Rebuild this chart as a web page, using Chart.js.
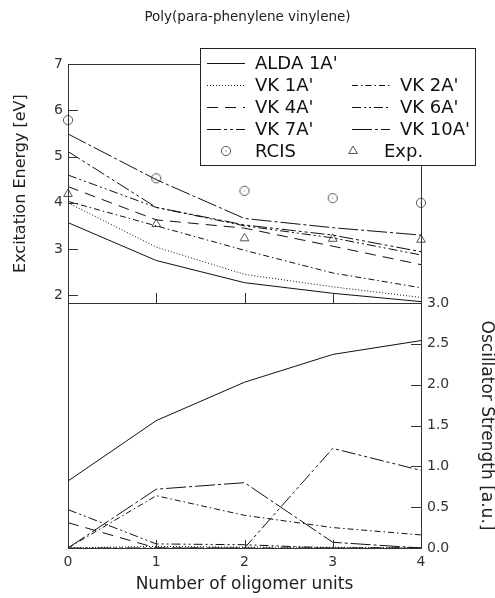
<!DOCTYPE html>
<html>
<head>
<meta charset="utf-8">
<script src="https://cdn.jsdelivr.net/npm/chart.js@4.4.1/dist/chart.umd.min.js"></script>
<style>
  body { margin: 0; background: #fff; }
  #wrap { position: relative; width: 495px; height: 598px; }
  #wrap canvas { position: absolute; left: 0; top: 0; }
</style>
</head>
<body>
<div id="wrap">
  <canvas id="strength" width="495" height="598"></canvas>
  <canvas id="energy" width="495" height="598"></canvas>
</div>
<script>
const oligomers = [0, 1, 2, 3, 4];
const energyTicks = [2, 3, 4, 5, 6, 7];
const strengthTicks = [0, 0.5, 1, 1.5, 2, 2.5, 3];

// excitation energies [eV]
const aldaE = [3.57, 2.75, 2.27, 2.04, 1.86];
const vk1E  = [4.00, 3.04, 2.45, 2.18, 1.95];
const vk2E  = [4.03, 3.50, 2.97, 2.48, 2.16];
const vk4E  = [4.35, 3.63, 3.45, 3.06, 2.66];
const vk6E  = [4.60, 3.90, 3.50, 3.24, 2.87];
const vk7E  = [5.11, 3.90, 3.52, 3.30, 2.94];
const vk10E = [5.49, 4.50, 3.66, 3.46, 3.30];
const rcisE = [5.79, 4.53, 4.26, 4.10, 4.00];
const expE  = [4.19, 3.54, 3.23, 3.22, 3.20];

// oscillator strengths [a.u.]
const aldaF = [0.82, 1.56, 2.03, 2.37, 2.54];
const vk1F  = [0.00, 0.02, 0.01, 0.01, 0.00];
const vk2F  = [0.00, 0.64, 0.40, 0.25, 0.16];
const vk4F  = [0.31, 0.00, 0.00, 0.00, 0.00];
const vk6F  = [0.47, 0.05, 0.04, 0.00, 0.00];
const vk7F  = [0.00, 0.00, 0.00, 1.22, 0.95];
const vk10F = [0.00, 0.72, 0.80, 0.07, 0.00];

const INK = '#111';
const FRAME = '#333';
Chart.defaults.font.family = "'DejaVu Sans', sans-serif";
Chart.defaults.color = '#222';

// open circle with a centre dot, used for RCIS
function circleDot() {
  const c = document.createElement('canvas');
  c.width = 12; c.height = 12;
  const g = c.getContext('2d');
  g.strokeStyle = '#555';
  g.lineWidth = 1;
  g.beginPath(); g.arc(6, 6, 4.6, 0, Math.PI * 2); g.stroke();
  g.fillStyle = '#555';
  g.fillRect(5.5, 5.5, 1, 1);
  return c;
}
const circleImg = circleDot();

function pts(values) {
  return values.map((v, i) => ({ x: oligomers[i], y: v }));
}

function lineSet(label, values, dash) {
  return {
    label, data: pts(values),
    borderColor: INK, borderWidth: 1, borderDash: dash,
    pointRadius: 0, fill: false, tension: 0
  };
}

function pointSet(label, values, style, radius) {
  return {
    label, data: pts(values), showLine: false,
    pointStyle: style, pointRadius: radius, pointBorderWidth: 1,
    pointBorderColor: '#555', pointBackgroundColor: 'rgba(0,0,0,0)',
    clip: false
  };
}

const DASH = {
  alda: [],
  vk1: [1, 2],
  vk2: [6, 3, 1.5, 3],
  vk4: [11, 7],
  vk6: [9, 3, 2, 3, 2, 3],
  vk7: [14, 3, 3, 3, 3, 3],
  vk10: [20, 3, 3, 3]
};

// inward tick marks and the panel frame
const panelFrame = {
  id: 'panelFrame',
  afterDatasetsDraw(chart, args, opts) {
    const { ctx, chartArea: a } = chart;
    ctx.save();
    ctx.strokeStyle = FRAME;
    ctx.lineWidth = 1;
    ctx.setLineDash([]);
    ctx.strokeRect(Math.round(a.left) + 0.5, Math.round(a.top) + 0.5,
      Math.round(a.right - a.left), Math.round(a.bottom - a.top));
    (opts.marks || []).forEach(m => {
      const s = chart.scales[m.axis];
      s.ticks.forEach(t => {
        const p = Math.round(s.getPixelForValue(t.value)) + 0.5;
        ctx.beginPath();
        if (m.edge === 'left') { ctx.moveTo(a.left, p); ctx.lineTo(a.left + m.len, p); }
        if (m.edge === 'right') { ctx.moveTo(a.right, p); ctx.lineTo(a.right - m.len, p); }
        if (m.edge === 'bottom') { ctx.moveTo(p, a.bottom); ctx.lineTo(p, a.bottom - m.len); }
        ctx.stroke();
      });
    });
    ctx.restore();
  }
};

// boxed two-column legend
const legendSlots = [[0, 0], [0, 1], [1, 1], [0, 2], [1, 2], [0, 3], [1, 3], [0, 4], [1, 4]];
const boxLegend = {
  id: 'boxLegend',
  afterDraw(chart) {
    const { ctx } = chart;
    ctx.save();
    ctx.fillStyle = '#fff';
    ctx.fillRect(200, 48, 275, 117);
    ctx.strokeStyle = '#222';
    ctx.lineWidth = 1;
    ctx.strokeRect(200.5, 48.5, 275, 117);
    ctx.font = "18px 'DejaVu Sans'";
    ctx.textBaseline = 'middle';
    ctx.fillStyle = '#111';
    chart.data.datasets.forEach((ds, i) => {
      const [col, row] = legendSlots[i];
      const y = 63 + row * 22;
      if (ds.showLine === false) {
        const mx = col === 0 ? 226 : 353;
        if (ds.pointStyle === 'triangle') {
          const r = ds.pointRadius;
          ctx.strokeStyle = '#555';
          ctx.setLineDash([]);
          ctx.beginPath();
          ctx.moveTo(mx, y - r);
          ctx.lineTo(mx + r * 0.866, y + r * 0.5);
          ctx.lineTo(mx - r * 0.866, y + r * 0.5);
          ctx.closePath();
          ctx.stroke();
        } else {
          ctx.drawImage(ds.pointStyle, mx - 6, y - 6);
        }
        ctx.fillText(ds.label, col === 0 ? 255 : 384, y + 1);
      } else {
        const sx = col === 0 ? 207 : 352;
        ctx.strokeStyle = INK;
        ctx.setLineDash(ds.borderDash);
        ctx.beginPath();
        ctx.moveTo(sx, y + 0.5);
        ctx.lineTo(sx + 38, y + 0.5);
        ctx.stroke();
        ctx.fillText(ds.label, col === 0 ? 255 : 400, y + 1);
      }
    });
    ctx.restore();
  }
};

new Chart(document.getElementById('energy'), {
  type: 'line',
  data: {
    datasets: [
      lineSet("ALDA 1A'", aldaE, DASH.alda),
      lineSet("VK 1A'", vk1E, DASH.vk1),
      lineSet("VK 2A'", vk2E, DASH.vk2),
      lineSet("VK 4A'", vk4E, DASH.vk4),
      lineSet("VK 6A'", vk6E, DASH.vk6),
      lineSet("VK 7A'", vk7E, DASH.vk7),
      lineSet("VK 10A'", vk10E, DASH.vk10),
      pointSet('RCIS', rcisE, circleImg, 5),
      pointSet('Exp.', expE, 'triangle', 5)
    ]
  },
  options: {
    responsive: false,
    animation: false,
    layout: { padding: { left: 0, right: 0, top: 0, bottom: 295 } },
    plugins: {
      legend: { display: false },
      tooltip: { enabled: false },
      title: {
        display: true,
        text: 'Poly(para-phenylene vinylene)',
        font: { size: 13.5, weight: 'normal' },
        color: '#222',
        padding: { top: 9, bottom: 39 }
      },
      panelFrame: { marks: [{ axis: 'y', edge: 'left', len: 10 }, { axis: 'x', edge: 'bottom', len: 10 }] }
    },
    scales: {
      x: {
        type: 'linear', min: 0, max: 4,
        afterBuildTicks: s => { s.ticks = oligomers.map(v => ({ value: v })); },
        afterFit: s => { s.height = 0; },
        grid: { display: false, drawTicks: false },
        border: { display: false },
        ticks: { display: false }
      },
      y: {
        type: 'linear', min: 1.83, max: 7, position: 'left',
        afterBuildTicks: s => { s.ticks = energyTicks.map(v => ({ value: v })); },
        afterFit: s => { s.width = 68; },
        grid: { display: false, drawTicks: false },
        border: { display: false },
        ticks: { padding: 5, font: { size: 14 }, color: '#333' },
        title: {
          display: true, text: 'Excitation Energy [eV]',
          font: { size: 16 }, padding: { top: 11, bottom: 0 }
        }
      },
      // empty right margin so the title centres on the whole page
      yPad: {
        type: 'linear', min: 1.83, max: 7, position: 'right',
        afterFit: s => { s.width = 74; },
        grid: { display: false, drawTicks: false },
        border: { display: false },
        ticks: { display: false }
      }
    }
  },
  plugins: [panelFrame, boxLegend]
});

new Chart(document.getElementById('strength'), {
  type: 'line',
  data: {
    datasets: [
      lineSet("ALDA 1A'", aldaF, DASH.alda),
      lineSet("VK 1A'", vk1F, DASH.vk1),
      lineSet("VK 2A'", vk2F, DASH.vk2),
      lineSet("VK 4A'", vk4F, DASH.vk4),
      lineSet("VK 6A'", vk6F, DASH.vk6),
      lineSet("VK 7A'", vk7F, DASH.vk7),
      lineSet("VK 10A'", vk10F, DASH.vk10)
    ]
  },
  options: {
    responsive: false,
    animation: false,
    layout: { padding: { left: 68, right: 0, top: 303, bottom: 0 } },
    plugins: {
      legend: { display: false },
      tooltip: { enabled: false },
      panelFrame: { marks: [{ axis: 'y', edge: 'right', len: 10 }, { axis: 'x', edge: 'bottom', len: 8 }] }
    },
    scales: {
      x: {
        type: 'linear', min: 0, max: 4, position: 'bottom',
        afterBuildTicks: s => { s.ticks = oligomers.map(v => ({ value: v })); },
        afterFit: s => { s.height = 50; },
        grid: { display: false, drawTicks: false },
        border: { display: false },
        ticks: { padding: 6, font: { size: 14 }, color: '#333', maxRotation: 0 },
        title: {
          display: true, text: 'Number of oligomer units',
          font: { size: 17 }, padding: { top: 0, bottom: 3 }
        }
      },
      y: {
        type: 'linear', min: 0, max: 3, position: 'right',
        afterBuildTicks: s => { s.ticks = strengthTicks.map(v => ({ value: v })); },
        afterFit: s => { s.width = 74; },
        grid: { display: false, drawTicks: false },
        border: { display: false },
        ticks: { padding: 6, font: { size: 14 }, color: '#333', callback: v => Number(v).toFixed(1) },
        title: {
          display: true, text: 'Oscillator Strength [a.u.]',
          font: { size: 17, lineHeight: 1 }, padding: 0
        }
      }
    }
  },
  plugins: [panelFrame]
});
</script>
</body>
</html>
